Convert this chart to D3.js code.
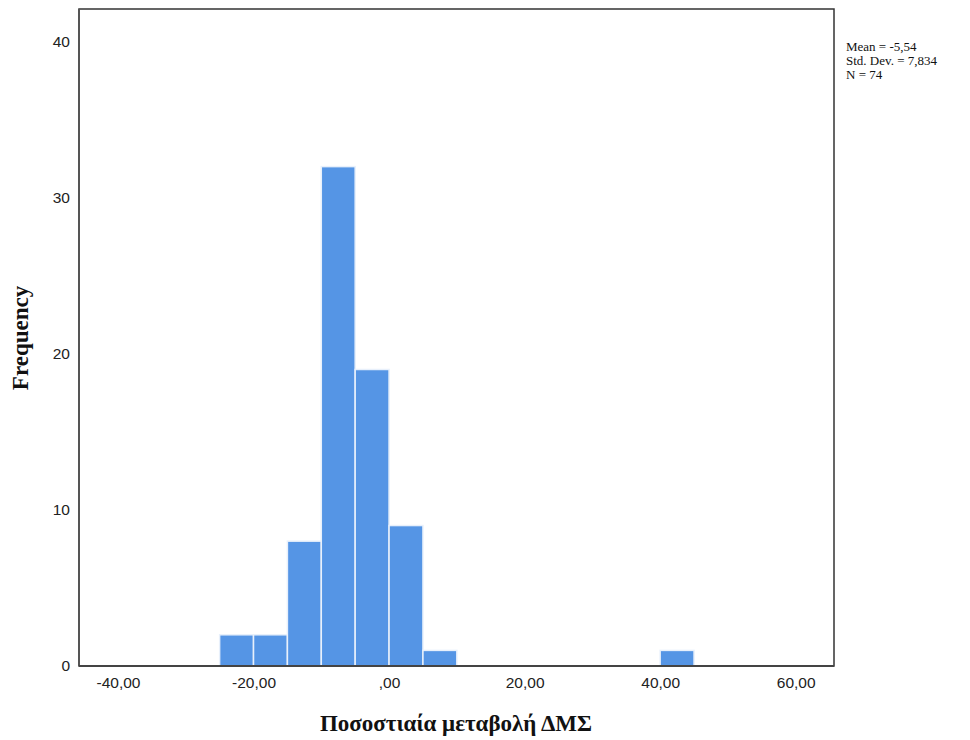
<!DOCTYPE html>
<html>
<head>
<meta charset="utf-8">
<script src="https://d3js.org/d3.v7.min.js"></script>
<style>
  body { margin: 0; background: #fff; }
  .tick text { font-family: "Liberation Sans", Arial, sans-serif; font-size: 15.5px; fill: #222; }
</style>
</head>
<body>
<svg width="970" height="740"></svg>
<script>
// histogram bins (lower edge, upper edge) and counts
var binStart = [-25, -20, -15, -10, -5, 0, 5, 40];
var binEnd   = [-20, -15, -10, -5, 0, 5, 10, 45];
var counts   = [2, 2, 8, 32, 19, 9, 1, 1];
var xTicks = [-40, -20, 0, 20, 40, 60];
var yTicks = [0, 10, 20, 30, 40];
var statsLines = ["Mean = -5,54", "Std. Dev. = 7,834", "N = 74"];

var svg = d3.select("svg");
var pLeft = 79, pTop = 9, pRight = 834, pBottom = 666;

var x = d3.scaleLinear().domain([-45.75, 65.65]).range([pLeft, pRight]);
var y = d3.scaleLinear().domain([0, 42.1]).range([pBottom, pTop]);

var data = counts.map(function(c, i) { return { x0: binStart[i], x1: binEnd[i], n: c }; });

// frame
svg.append("rect")
  .attr("x", pLeft).attr("y", pTop)
  .attr("width", pRight - pLeft).attr("height", pBottom - pTop)
  .attr("fill", "none").attr("stroke", "#333").attr("stroke-width", 1.5);

svg.selectAll(".bar")
  .data(data)
  .enter().append("rect")
  .attr("class", "bar")
  .attr("x", function(d) { return x(d.x0); })
  .attr("y", function(d) { return y(d.n); })
  .attr("width", function(d) { return x(d.x1) - x(d.x0); })
  .attr("height", function(d) { return y(0) - y(d.n); })
  .attr("fill", "#5595e5")
  .attr("stroke", "#e8f0fb")
  .attr("stroke-width", 1.5);

// axes lines (left and bottom darker)
svg.append("line").attr("x1", pLeft).attr("x2", pLeft).attr("y1", pTop).attr("y2", pBottom)
  .attr("stroke", "#555").attr("stroke-width", 2);
svg.append("line").attr("x1", pLeft).attr("x2", pRight).attr("y1", pBottom).attr("y2", pBottom)
  .attr("stroke", "#444").attr("stroke-width", 2);

var fmt = function(d) {
  if (d === 0) return ",00";
  return d.toFixed(2).replace(".", ",");
};

svg.append("g")
  .attr("transform", "translate(0," + pBottom + ")")
  .call(d3.axisBottom(x).tickValues(xTicks).tickFormat(fmt).tickSize(0).tickPadding(11))
  .call(function(g) { g.select(".domain").remove(); });

svg.append("g")
  .attr("transform", "translate(" + pLeft + ",0)")
  .call(d3.axisLeft(y).tickValues(yTicks).tickFormat(d3.format("d")).tickSize(0).tickPadding(9))
  .call(function(g) { g.select(".domain").remove(); });

// axis titles
svg.append("text")
  .attr("x", 456).attr("y", 731)
  .attr("text-anchor", "middle")
  .attr("font-family", "'Liberation Serif', 'Times New Roman', serif")
  .attr("font-weight", "bold").attr("font-size", "23px")
  .attr("fill", "#111")
  .text("Ποσοστιαία μεταβολή ΔΜΣ");

svg.append("text")
  .attr("transform", "translate(28,338) rotate(-90)")
  .attr("text-anchor", "middle")
  .attr("font-family", "'Liberation Serif', 'Times New Roman', serif")
  .attr("font-weight", "bold").attr("font-size", "23px")
  .attr("fill", "#111")
  .text("Frequency");

// stats box
svg.selectAll(".stat")
  .data(statsLines)
  .enter().append("text")
  .attr("class", "stat")
  .attr("x", 846)
  .attr("y", function(d, i) { return 51 + i * 14; })
  .attr("font-family", "'Liberation Serif', 'Times New Roman', serif")
  .attr("font-size", "13px")
  .attr("fill", "#111")
  .text(function(d) { return d; });
</script>
</body>
</html>
